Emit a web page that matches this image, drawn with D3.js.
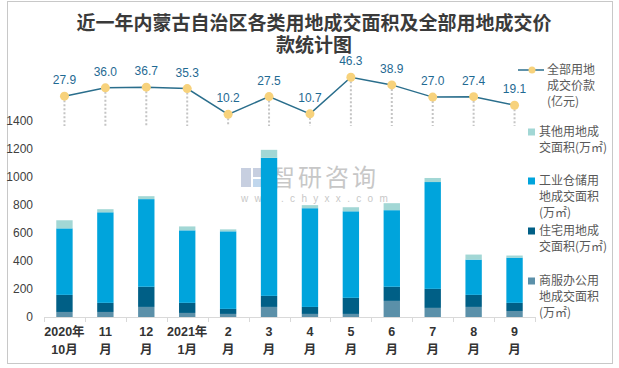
<!DOCTYPE html>
<html>
<head>
<meta charset="utf-8">
<script src="https://cdn.jsdelivr.net/npm/d3@7/dist/d3.min.js"></script>
<style>
  html, body { margin: 0; padding: 0; background: #fff; }
  svg { display: block; font-family: "Liberation Sans", "Noto Sans CJK SC", sans-serif; }
</style>
</head>
<body>
<svg id="chart" width="619" height="368"></svg>
<script>
// ---------- data ----------
const months = ["2020年\n10月", "11\n月", "12\n月", "2021年\n1月", "2\n月", "3\n月", "4\n月", "5\n月", "6\n月", "7\n月", "8\n月", "9\n月"];
const commercial = [36, 36, 72, 29, 22, 72, 22, 22, 115, 65, 72, 43];      // 商服办公用地成交面积
const residential = [122, 65, 144, 72, 36, 79, 50, 115, 101, 136, 86, 58];  // 住宅用地成交面积
const industrial = [475, 647, 626, 518, 554, 986, 705, 618, 547, 763, 252, 323]; // 工业仓储用地成交面积
const other = [58, 22, 21, 28, 14, 57, 22, 29, 50, 29, 36, 15];             // 其他用地成交面积
const price = [27.9, 36.0, 36.7, 35.3, 10.2, 27.5, 10.7, 46.3, 38.9, 27.0, 27.4, 19.1]; // 全部用地成交价款(亿元)
const yTicks = [0, 200, 400, 600, 800, 1000, 1200, 1400];
const titleLines = ["近一年内蒙古自治区各类用地成交面积及全部用地成交价", "款统计图"];

const colors = {
  commercial: "#5b90a9",
  residential: "#005f86",
  industrial: "#00a4dc",
  other: "#a2d7d5",
  line: "#2a6e8c",
  dot: "#f7d27c",
  label: "#1f6a93",
  text: "#595959"
};

const svg = d3.select("#chart");

// border
svg.append("rect").attr("x", 7.5).attr("y", 1.5).attr("width", 605).attr("height", 362)
  .attr("fill", "#fff").attr("stroke", "#c8c8c8").attr("stroke-width", 1);

// title
svg.append("g").selectAll("text").data(titleLines).join("text")
  .attr("x", 314).attr("y", (d, i) => 30 + i * 22)
  .attr("text-anchor", "middle")
  .attr("font-family", "'Noto Sans CJK SC', sans-serif")
  .attr("font-weight", "bold").attr("font-size", 19).attr("fill", "#3a3a3a")
  .text(d => d);

// scales
const x = d3.scaleBand().domain(months).range([44, 535]).paddingInner(0.6).paddingOuter(0.3);
const y = d3.scaleLinear().domain([0, 1400]).range([317, 121]);
const yLine = d3.scaleLinear().domain([0, 50]).range([124.8, 73.5]);

// watermark (behind bars)
const wm = svg.append("g").attr("opacity", 0.55);
wm.append("rect").attr("x", 241).attr("y", 168).attr("width", 10).attr("height", 19).attr("fill", "#9aa9c8");
wm.append("rect").attr("x", 253).attr("y", 168).attr("width", 11).attr("height", 9).attr("fill", "#9aa9c8");
wm.append("rect").attr("x", 253).attr("y", 179).attr("width", 11).attr("height", 8).attr("fill", "#8fb8e0");
wm.append("text").attr("x", 271).attr("y", 186).attr("font-size", 24)
  .attr("font-family", "'Noto Sans CJK SC', sans-serif").attr("fill", "#9a9a9a")
  .attr("letter-spacing", 3).text("智研咨询");
wm.append("text").attr("x", 241).attr("y", 202).attr("font-size", 10).attr("fill", "#9a9a9a")
  .attr("letter-spacing", 6.3).text("www.chyxx.com");

// stacked bars
const rows = months.map((m, i) => ({
  month: m, commercial: commercial[i], residential: residential[i], industrial: industrial[i], other: other[i]
}));
const keys = ["commercial", "residential", "industrial", "other"];
const stack = d3.stack().keys(keys)(rows);
svg.append("g").selectAll("g").data(stack).join("g")
  .attr("fill", d => colors[d.key])
  .selectAll("rect").data(d => d).join("rect")
  .attr("x", d => x(d.data.month))
  .attr("width", x.bandwidth())
  .attr("y", d => y(d[1]))
  .attr("height", d => y(d[0]) - y(d[1]));

// y axis
const yAxis = d3.axisLeft(y).tickValues(yTicks).tickFormat(d3.format("d")).tickSize(0).tickPadding(3);
const gy = svg.append("g").attr("transform", "translate(36,0)").call(yAxis);
gy.select(".domain").remove();
gy.selectAll("text").attr("font-size", 12).attr("fill", "#404040")
  .attr("font-family", "'Liberation Sans', sans-serif");

// x axis
const gx = svg.append("g").attr("transform", "translate(0,317)");
gx.append("line").attr("x1", 44).attr("x2", 535).attr("y1", 0.5).attr("y2", 0.5)
  .attr("stroke", "#d9d9d9").attr("stroke-width", 1);
const tickXs = months.map(m => x(m) + x.bandwidth() / 2 - x.step() / 2)
  .concat([x(months[months.length - 1]) + x.bandwidth() / 2 + x.step() / 2]);
gx.selectAll("line.tk").data(tickXs).join("line").attr("class", "tk")
  .attr("x1", d => Math.round(d) + 0.5).attr("x2", d => Math.round(d) + 0.5)
  .attr("y1", 0).attr("y2", 5).attr("stroke", "#d9d9d9");
const xl = gx.selectAll("g.xl").data(months).join("g").attr("class", "xl")
  .attr("transform", d => `translate(${x(d) + x.bandwidth() / 2},0)`);
xl.selectAll("text").data(d => d.split("\n")).join("text")
  .attr("y", (d, i) => 19 + i * 18)
  .attr("text-anchor", "middle").attr("font-size", 12.5).attr("fill", "#333")
  .attr("font-weight", "bold")
  .text(d => d);

// drop lines
const cx = i => x(months[i]) + x.bandwidth() / 2;
svg.append("g").selectAll("line").data(price).join("line")
  .attr("x1", (d, i) => cx(i)).attr("x2", (d, i) => cx(i))
  .attr("y1", d => yLine(d)).attr("y2", 126)
  .attr("stroke", "#c4c4c4").attr("stroke-width", 2).attr("stroke-dasharray", "2,2");

// price line
const line = d3.line().x((d, i) => cx(i)).y(d => yLine(d));
svg.append("path").datum(price).attr("d", line)
  .attr("fill", "none").attr("stroke", colors.line).attr("stroke-width", 1.5);
svg.append("g").selectAll("circle").data(price).join("circle")
  .attr("cx", (d, i) => cx(i)).attr("cy", d => yLine(d)).attr("r", 4.5)
  .attr("fill", colors.dot);
svg.append("g").selectAll("text").data(price).join("text")
  .attr("x", (d, i) => cx(i)).attr("y", d => yLine(d) - 12)
  .attr("text-anchor", "middle").attr("font-size", 12).attr("fill", colors.label)
  .text(d => d.toFixed(1));

// legend
const lg = svg.append("g").attr("font-size", 12).attr("fill", colors.text)
  .attr("font-family", "'Noto Sans CJK SC', sans-serif");
lg.append("line").attr("x1", 518).attr("x2", 544).attr("y1", 70).attr("y2", 70)
  .attr("stroke", colors.line).attr("stroke-width", 1.5);
lg.append("circle").attr("cx", 532).attr("cy", 70).attr("r", 3.5).attr("fill", colors.dot);
const legendItems = [
  { key: null, x: 547, lines: ["全部用地", "成交价款", "(亿元)"], y: 70 },
  { key: "other", x: 539, lines: ["其他用地成", "交面积(万㎡)"], y: 132 },
  { key: "industrial", x: 539, lines: ["工业仓储用", "地成交面积", "(万㎡)"], y: 181 },
  { key: "residential", x: 539, lines: ["住宅用地成", "交面积(万㎡)"], y: 231 },
  { key: "commercial", x: 539, lines: ["商服办公用", "地成交面积", "(万㎡)"], y: 281 }
];
legendItems.forEach(it => {
  if (it.key) {
    lg.append("rect").attr("x", 528).attr("y", it.y - 3.5).attr("width", 7).attr("height", 7)
      .attr("fill", colors[it.key]);
  }
  it.lines.forEach((t, i) => {
    lg.append("text").attr("x", it.x).attr("y", it.y + i * 16).attr("dy", "0.36em").text(t);
  });
});
</script>
</body>
</html>
